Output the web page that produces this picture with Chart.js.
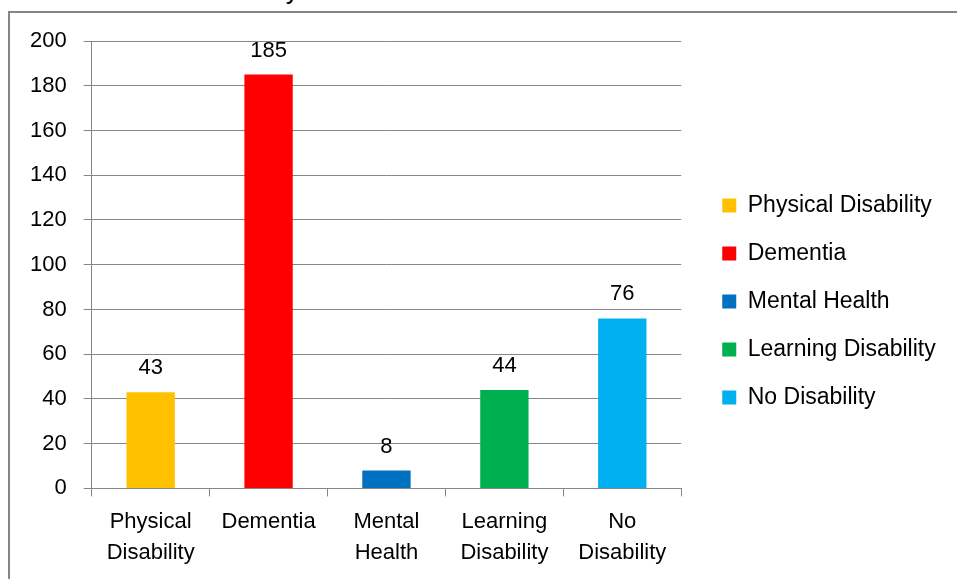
<!DOCTYPE html>
<html>
<head>
<meta charset="utf-8">
<script src="https://cdn.jsdelivr.net/npm/chart.js@4"></script>
<style>
  body { margin: 0; background: #fff; width: 957px; height: 579px; overflow: hidden; position: relative; font-family: "Liberation Sans", sans-serif; }
  .chartTitle { position: absolute; left: 40px; top: -25px; font-size: 26px; line-height: 30px; color: #000; white-space: nowrap; }
  .chartFrame { position: absolute; left: 8px; top: 11px; width: 1000px; height: 600px; border-left: 2px solid #868686; border-top: 2px solid #868686; }
  .myChart { position: absolute; left: 0; top: 0; }
</style>
</head>
<body>
<div class="chartTitle">related to the disability</div>
<div class="chartFrame"></div>
<canvas class="myChart" width="957" height="579"></canvas>
<script>
// data
const categories = ["Physical Disability", "Dementia", "Mental Health", "Learning Disability", "No Disability"];
const axisLabels = [["Physical", "Disability"], "Dementia", ["Mental", "Health"], ["Learning", "Disability"], ["No", "Disability"]];
const values = [43, 185, 8, 44, 76];
const barColors = ["#FFC000", "#FF0000", "#0070C0", "#00B050", "#00B0F0"];

const fontName = "Liberation Sans";
const gridColor = "#868686";

// draws the number above each bar
const valueLabels = {
  id: "valueLabels",
  afterDatasetsDraw(chart) {
    const ctx = chart.ctx;
    const meta = chart.getDatasetMeta(0);
    ctx.save();
    ctx.font = "22px " + fontName;
    ctx.fillStyle = "#000";
    ctx.textAlign = "center";
    ctx.textBaseline = "middle";
    meta.data.forEach((bar, i) => {
      ctx.fillText(values[i], bar.x, bar.y - 24);
    });
    ctx.restore();
  }
};

// more room between plot and legend, legend a bit higher
const legendGap = 16;
const legendLift = 8;
const legendNudge = {
  id: "legendNudge",
  afterInit(chart) {
    const legend = chart.legend;
    const fit = legend.fit;
    legend.fit = function () {
      fit.call(this);
      this.width += legendGap + 8;
    };
  },
  afterLayout(chart) {
    const legend = chart.legend;
    legend.left += legendGap;
    legend.top -= legendLift;
    legend.bottom -= legendLift;
  }
};

new Chart(document.querySelector(".myChart"), {
  type: "bar",
  data: {
    labels: axisLabels,
    datasets: [{
      label: "Count",
      data: values,
      backgroundColor: barColors,
      borderWidth: 0,
      barPercentage: 0.41,
      categoryPercentage: 1
    }]
  },
  plugins: [valueLabels, legendNudge],
  options: {
    responsive: false,
    animation: false,
    layout: { padding: { top: 41, left: 13, right: 21, bottom: 1 } },
    plugins: {
      tooltip: { enabled: false },
      legend: {
        position: "right",
        align: "center",
        labels: {
          boxWidth: 14,
          boxHeight: 14,
          padding: 25,
          color: "#000",
          font: { family: fontName, size: 23 },
          generateLabels: () => categories.map((c, i) => ({
            text: c,
            fillStyle: barColors[i],
            strokeStyle: barColors[i],
            lineWidth: 0,
            index: i
          }))
        }
      }
    },
    scales: {
      x: {
        grid: { display: true, drawOnChartArea: false, color: gridColor, tickLength: 8, offset: true },
        border: { color: gridColor, width: 1 },
        ticks: { color: "#000", font: { family: fontName, size: 22, lineHeight: 1.4 }, padding: 10, maxRotation: 0, autoSkip: false }
      },
      y: {
        min: 0,
        max: 200,
        ticks: { stepSize: 20, color: "#000", font: { family: fontName, size: 22 }, padding: 17 },
        grid: { color: gridColor, tickLength: 8 },
        border: { color: gridColor, width: 1 }
      }
    }
  }
});
</script>
</body>
</html>
